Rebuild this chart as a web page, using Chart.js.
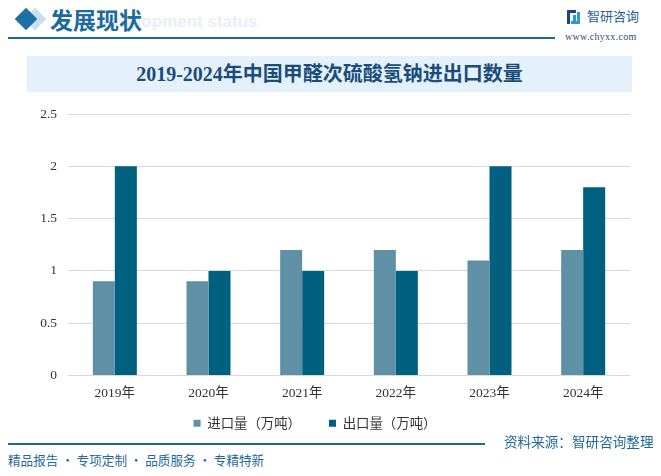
<!DOCTYPE html>
<html>
<head>
<meta charset="utf-8">
<script src="https://cdn.jsdelivr.net/npm/chart.js@4.4.0/dist/chart.umd.min.js"></script>
<style>
  body { margin: 0; width: 661px; height: 476px; background: #fff; position: relative; overflow: hidden;
         font-family: "Noto Sans CJK SC", sans-serif; }
  .abs { position: absolute; white-space: nowrap; }
  #diamond { left: 18px; top: 11px; width: 16px; height: 16px; background: #1d6fa5; transform: rotate(45deg); }
  #diamond2 { left: 27px; top: 11px; width: 16px; height: 16px; background: #c9dff0; transform: rotate(45deg); z-index: -1; }
  #head { left: 50px; top: 2px; font-size: 23px; font-weight: bold; color: #1d6a9c; }
  #ghost { left: 96px; top: 12px; font-size: 17px; font-weight: bold; color: #e8eff5; font-family: "Liberation Sans", sans-serif; z-index: -1; }
  #headline { left: 8px; top: 37px; width: 547px; height: 2px; background: #1d6a8c; }
  #logoicon { left: 567px; top: 10px; width: 13px; height: 14px; }
  #logotext { left: 587px; top: 6px; font-size: 13px; color: #1f5f95; }
  #site { left: 565px; top: 31px; font-size: 10px; color: #1f4f7a; font-family: "Liberation Serif", serif; letter-spacing: 0.3px; }
  #band { left: 27px; top: 56px; width: 605px; height: 36px; background: #e4f1fa; }
  #title { left: 27px; top: 56px; width: 605px; height: 36px; line-height: 36px; text-align: center;
           font-size: 20px; font-weight: bold; color: #1b4d7a; font-family: "Liberation Serif", "Noto Sans CJK SC", serif; }
  #chartbox { left: 0; top: 95px; width: 661px; height: 345px; }
  #footline { left: 8px; top: 443px; width: 477px; height: 2px; background: #1d6a8c; }
  #source { left: 504px; top: 431px; font-size: 13.6px; color: #1f6a9a; }
  #slogan { left: 8px; top: 450px; font-size: 12.6px; color: #1f6a9a; }
</style>
</head>
<body>
<div class="abs" id="diamond2"></div>
<div class="abs" id="diamond"></div>
<div class="abs" id="ghost">Development status</div>
<div class="abs" id="head">发展现状</div>
<div class="abs" id="headline"></div>
<svg class="abs" id="logoicon" viewBox="0 0 13 14">
  <rect x="0" y="0" width="9" height="3" fill="#1f3f8f"/>
  <rect x="0" y="0" width="3" height="14" fill="#1f3f8f"/>
  <rect x="6" y="5" width="3" height="6" fill="#2a9ad8"/>
  <rect x="10" y="2" width="3" height="12" fill="#2a9ad8"/>
  <rect x="4" y="11" width="9" height="3" fill="#2a9ad8"/>
</svg>
<div class="abs" id="logotext">智研咨询</div>
<div class="abs" id="site">www.chyxx.com</div>
<div class="abs" id="band"></div>
<div class="abs" id="title">2019-2024年中国甲醛次硫酸氢钠进出口数量</div>
<div class="abs" id="chartbox"><canvas id="chart"></canvas></div>
<div class="abs" id="footline"></div>
<div class="abs" id="source">资料来源：智研咨询整理</div>
<div class="abs" id="slogan">精品报告 · 专项定制 · 品质服务 · 专精特新</div>

<script>
// 数据
const anios = ['2019年', '2020年', '2021年', '2022年', '2023年', '2024年'];
const importaciones = [0.9, 0.9, 1.2, 1.2, 1.1, 1.2];
const exportaciones = [2, 1, 1, 1, 2, 1.8];
const nombresSeries = ['进口量（万吨）', '出口量（万吨）'];

const fuenteEjes = { family: '"Liberation Serif", "Noto Sans CJK SC", serif', size: 13.5 };

// La leyenda ocupa menos alto (el padding de 28 es para separar los items, no para el espacio vertical)
const AJUSTE_LEYENDA = 15;
const leyendaCompacta = {
    id: 'leyendaCompacta',
    afterInit(chart) {
        const ley = chart.legend;
        if (!ley) return;
        const fitOriginal = ley.fit.bind(ley);
        const drawOriginal = ley._draw.bind(ley);
        ley.fit = () => { fitOriginal(); ley.height -= AJUSTE_LEYENDA; };
        ley._draw = () => {
            ley.ctx.save();
            ley.ctx.translate(0, -AJUSTE_LEYENDA);
            drawOriginal();
            ley.ctx.restore();
        };
    }
};

new Chart(document.getElementById('chart'), {
    type: 'bar',
    data: {
        labels: anios,
        datasets: [
            { label: nombresSeries[0], data: importaciones, backgroundColor: '#6090a6' },
            { label: nombresSeries[1], data: exportaciones, backgroundColor: '#00607f' }
        ]
    },
    options: {
        responsive: true,
        maintainAspectRatio: false,
        animation: false,
        layout: { padding: { top: 13, right: 31, left: 0, bottom: 0 } },
        datasets: { bar: { barPercentage: 1, categoryPercentage: 0.47 } },
        plugins: {
            tooltip: { enabled: false },
            legend: {
                position: 'bottom',
                labels: {
                    boxWidth: 7, boxHeight: 7, padding: 28, color: '#333',
                    font: { family: '"Noto Sans CJK SC", sans-serif', size: 13.4 }
                }
            }
        },
        scales: {
            x: {
                grid: { display: false },
                border: { display: false },
                ticks: { color: '#333', font: fuenteEjes, padding: 2 }
            },
            y: {
                min: 0, max: 2.5,
                afterFit: (scale) => { scale.width = 68; },
                ticks: { stepSize: 0.5, color: '#333', font: fuenteEjes, padding: 11,
                         callback: (v) => String(v) },
                grid: { color: '#d9d9d9', drawTicks: false },
                border: { display: false }
            }
        }
    },
    plugins: [leyendaCompacta]
});
</script>
</body>
</html>
